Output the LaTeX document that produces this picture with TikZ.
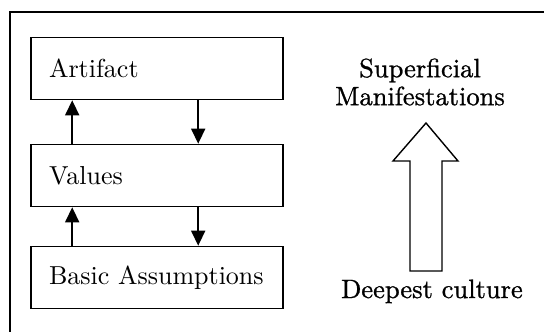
\documentclass[tikz,border=0pt]{standalone}
\usepackage{fontspec}
\usetikzlibrary{arrows.meta}
\newfontfamily\boxfont{lmroman10-regular.otf}
\newfontfamily\heavyfont[FakeBold=1]{lmroman10-regular.otf}
\tikzset{
  layerbox/.style={draw, line width=1.6pt, rectangle, minimum height=62pt,
    text width=216pt, inner xsep=18pt, align=left, font=\boxfont\fontsize{26}{30}\selectfont},
  flow/.style={line width=1.6pt, -{Triangle[length=15pt,width=14pt]}},
  sidetext/.style={align=center, font=\heavyfont\fontsize{26.5}{28}\selectfont}
}
\begin{document}
\begin{tikzpicture}[x=1pt,y=-1pt]
\useasboundingbox (0,0) rectangle (544,332);
% Frame (only the left and top edges are seen)
\draw[line width=1.6pt] (10,332) |- (544,12);

% The three layers
\node[layerbox] (artifact) at (157,68.5) {Artifact};
\node[layerbox] (values) at (157,175.5) {Values};
\node[layerbox] (basic) at (157,277.5) {Basic Assumptions};

% Arrows between the layers
\draw[flow] ([xshift=42pt]values.north west) -- ([xshift=42pt]artifact.south west);
\draw[flow] ([xshift=168pt]artifact.south west) -- ([xshift=168pt]values.north west);
\draw[flow] ([xshift=42pt]basic.north west) -- ([xshift=42pt]values.south west);
\draw[flow] ([xshift=168pt]values.south west) -- ([xshift=168pt]basic.north west);

% Right side: hollow arrow from deepest to superficial
\node[sidetext] (sup) at (420,82) {Superficial\\Manifestations};
\node[sidetext, anchor=base] (deep) at (432,298) {Deepest culture};
\draw[line width=1.4pt, fill=white] (410,271) -- (410,161) -- (393,161) -- (426,123)
  -- (458,161) -- (442,161) -- (442,271) -- cycle;
\end{tikzpicture}
\end{document}
